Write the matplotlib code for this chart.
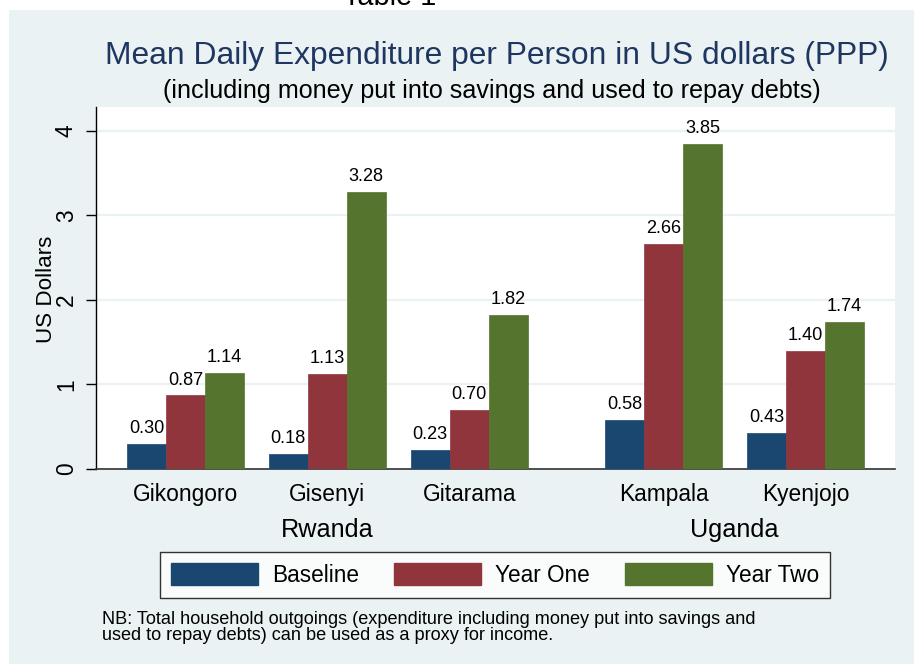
import matplotlib
matplotlib.use("Agg")
import matplotlib.pyplot as plt
from matplotlib.patches import Rectangle, Patch
import numpy as np

plt.rcParams['font.family'] = ['Liberation Sans', 'DejaVu Sans']

districts = ["Gikongoro", "Gisenyi", "Gitarama", "Kampala", "Kyenjojo"]
countries = ["Rwanda", "Uganda"]
district_country = [0, 0, 0, 1, 1]
series_names = ["Baseline", "Year One", "Year Two"]
baseline = [0.30, 0.18, 0.23, 0.58, 0.43]
year_one = [0.87, 1.13, 0.70, 2.66, 1.40]
year_two = [1.14, 3.28, 1.82, 3.85, 1.74]
yticks = [0, 1, 2, 3, 4]

colors = ["#1A476F", "#90353B", "#55752F"]
bg = "#EAF2F3"

W, H = 914, 664
fig = plt.figure(figsize=(W / 100, H / 100), dpi=100, facecolor="white")
renderer = fig.canvas.get_renderer()

def fit_size(text, target_px, base=12.0):
    t = fig.text(0, 0, text, fontsize=base)
    w = t.get_window_extent(renderer).width
    t.remove()
    return base * target_px / w

fig.patches.append(Rectangle((9 / W, 0), 1 - 9 / W, (H - 10) / H,
                             transform=fig.transFigure, facecolor=bg,
                             edgecolor="none", zorder=-10))

def px(x, y):
    return x / W, (H - y) / H

title_fs = fit_size("Mean Daily Expenditure per Person in US dollars (PPP)", 785)
sub_fs = fit_size("(including money put into savings and used to repay debts)", 660)
tick_fs = fit_size("Gikongoro", 106)
country_fs = fit_size("Rwanda", 93)
val_fs = fit_size("0.30", 35)
leg_fs = fit_size("Baseline", 87)
note_fs = fit_size("NB: Total household outgoings (expenditure including money put into savings and", 656)
tab_fs = fit_size("Table 1", 93)
ylab_fs = fit_size("US Dollars", 107)

left, right, top, bottom = 96, 895, 107, 469
ax = fig.add_axes([left / W, (H - bottom) / H, (right - left) / W, (bottom - top) / H])
ax.set_facecolor("white")

gap = 0.37
centers = np.array([i + gap * district_country[i] for i in range(len(districts))], dtype=float)
bw = 0.275
all_series = [baseline, year_one, year_two]
for k, vals in enumerate(all_series):
    xs = centers + (k - 1) * bw
    ax.bar(xs, vals, width=bw, color=colors[k], edgecolor=colors[k],
           linewidth=0.5, zorder=3, label=series_names[k])
    for x, v in zip(xs, vals):
        ax.annotate(f"{v:.2f}", (x, v), xytext=(0, 5), textcoords="offset points",
                    ha="center", va="bottom", fontsize=val_fs, color="black", zorder=4)

ax.set_xlim(centers[0] - 0.63, centers[-1] + 0.63)
ax.set_ylim(0, 4.284)
ax.set_yticks(yticks)
ax.set_yticklabels([str(t) for t in yticks], rotation=90, va="center", fontsize=tick_fs)
ax.yaxis.grid(True, color=bg, linewidth=1.6, zorder=0)
ax.set_axisbelow(True)
ax.tick_params(axis="y", length=7, width=1, pad=6, colors="black")
ax.set_xticks(centers)
ax.set_xticklabels(districts, fontsize=tick_fs)
ax.tick_params(axis="x", length=0, pad=10)
for s in ["top", "right"]:
    ax.spines[s].set_visible(False)
ax.spines["left"].set_color("black")
ax.spines["left"].set_linewidth(1)
ax.spines["bottom"].set_color("#333333")
ax.spines["bottom"].set_linewidth(1.2)

fig.text(*px(46.5, 289), "US Dollars", rotation=90, ha="center", va="center",
         fontsize=ylab_fs, color="black")

for ci, cname in enumerate(countries):
    idx = [i for i, c in enumerate(district_country) if c == ci]
    xc = centers[idx].mean()
    ax.annotate(cname, (xc, 0), xycoords=("data", "axes fraction"),
                xytext=(0, -61), textcoords="offset pixels",
                ha="center", va="center", fontsize=country_fs)

fig.text(*px(497, 56), "Mean Daily Expenditure per Person in US dollars (PPP)",
         ha="center", va="center", fontsize=title_fs, color="#1F3661")
fig.text(*px(492, 91), "(including money put into savings and used to repay debts)",
         ha="center", va="center", fontsize=sub_fs, color="black")
fig.text(*px(390, 5), "Table 1", ha="center", va="baseline", fontsize=tab_fs, color="black")

fpx = leg_fs * 100 / 72
handles = [Patch(facecolor=c, edgecolor=c) for c in colors]
leg = fig.legend(handles, series_names, loc="center", bbox_to_anchor=px(495, 575),
                 ncol=3, fontsize=leg_fs, frameon=True, fancybox=False,
                 handlelength=87 / fpx, handleheight=24 / fpx, handletextpad=14 / fpx,
                 columnspacing=35 / fpx, borderpad=0.5, borderaxespad=0,
                 edgecolor="black")
leg.get_frame().set_linewidth(1.0)
leg.get_frame().set_facecolor("white")

fig.text(*px(102, 611), "NB: Total household outgoings (expenditure including money put into savings and\n"
         "used to repay debts) can be used as a proxy for income.",
         ha="left", va="top", fontsize=note_fs, color="black", linespacing=0.95)

fig.savefig("out.png", dpi=100, facecolor=fig.get_facecolor())
